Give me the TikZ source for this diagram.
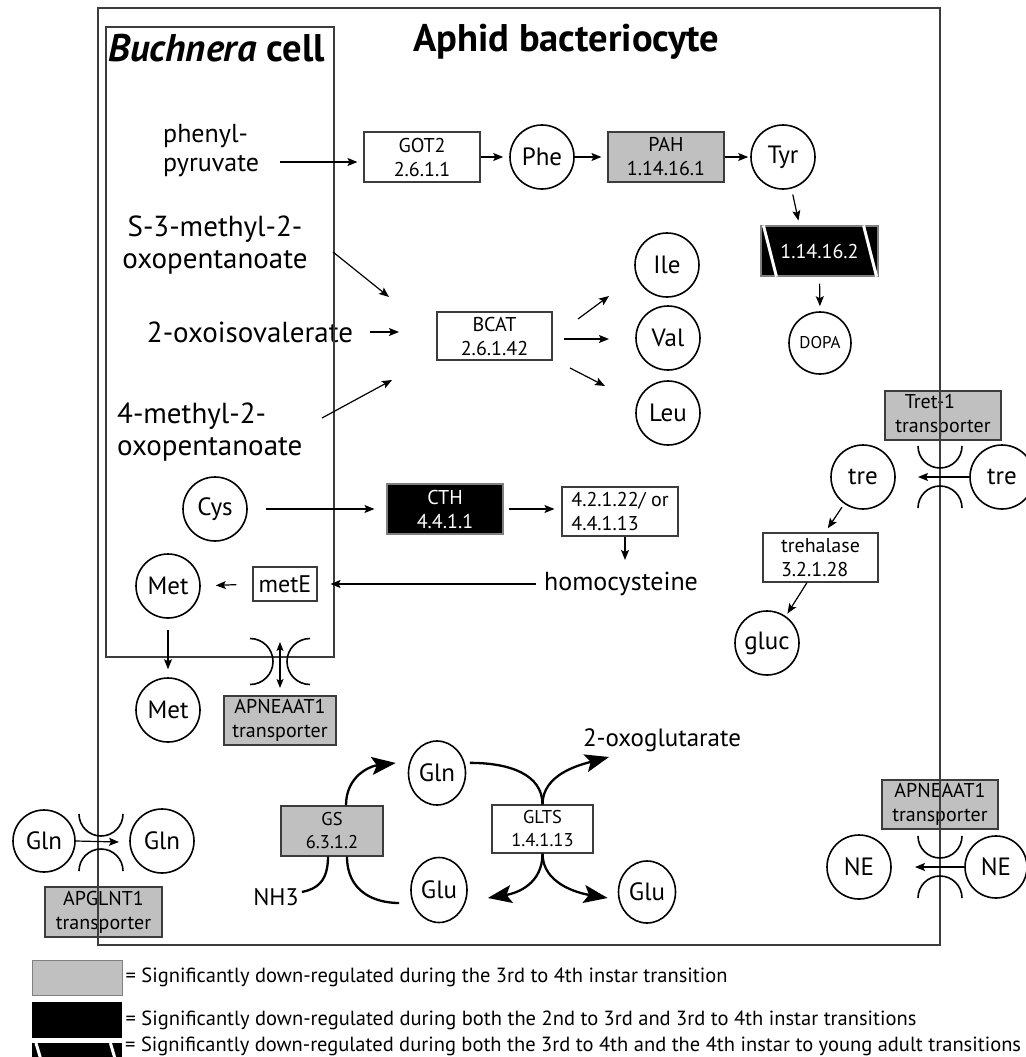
\documentclass[tikz,border=0pt]{standalone}
\usepackage{fontspec}
\setmainfont{PT Sans}
\usetikzlibrary{arrows.meta,shapes.geometric}
\definecolor{gfill}{RGB}{192,192,192}
\definecolor{ln}{RGB}{60,60,60}
\begin{document}
\begin{tikzpicture}[x=1pt,y=-1pt,
 enz/.style={draw=ln, line width=1.1pt, minimum width=116pt, minimum height=50pt, inner sep=0pt, align=center, font=\fontsize{20}{24}\selectfont},
 grayenz/.style={enz, fill=gfill},
 blackenz/.style={enz, fill=black, draw=gray, text=white},
 mol/.style={circle, draw=black, line width=1.6pt, minimum size=64pt, inner sep=0pt, font=\fontsize{25}{28}\selectfont},
 molel/.style={ellipse, draw=black, line width=1.6pt, minimum width=57pt, minimum height=64pt, inner sep=0pt, font=\fontsize{25}{28}\selectfont},
 lab/.style={inner sep=0pt, font=\fontsize{26}{29}\selectfont},
 labbig/.style={inner sep=0pt, font=\fontsize{29}{32}\selectfont},
 ttl/.style={inner sep=0pt, anchor=base west, font=\fontsize{38.5}{40}\selectfont\bfseries},
 arr/.style={line width=1.2pt, -{Stealth[length=10pt,width=8pt,inset=2pt]}},
 darr/.style={line width=1.2pt, {Stealth[length=9pt,width=7pt,inset=2pt]}-{Stealth[length=9pt,width=7pt,inset=2pt]}},
 bigarr/.style={line width=2.3pt, -{Stealth[length=24pt,width=18pt,inset=5pt]}},
 crv/.style={line width=2.3pt},
 memb/.style={line width=1.6pt},
 wall/.style={draw=ln, line width=1.4pt},
 leg/.style={inner sep=0pt, anchor=west, font=\fontsize{20.5}{22}\selectfont},
 legbox/.style={minimum width=90pt, inner sep=0pt, anchor=north west},
]
\useasboundingbox (0,0) rectangle (1025,1057);

% titles
\node[ttl] (tbuch) at (108,62) {\textit{Buchnera} cell};
\node[ttl] (taphid) at (413,52) {Aphid bacteriocyte};

% aromatic pathway
\node[lab, align=left, anchor=west] (pp) at (163,151) {phenyl-\\pyruvate};
\node[enz] (got2) at (422,157) {GOT2\\2.6.1.1};
\node[mol] (phe) at (542,157) {Phe};
\node[grayenz] (pah) at (666,157) {PAH\\1.14.16.1};
\node[mol] (tyr) at (783,157) {Tyr};
\node[blackenz, minimum width=117pt] (hpd) at (819.5,251) {1.14.16.2};
\draw[white, line width=3pt] ([xshift=3pt]hpd.north west) -- ([xshift=16pt]hpd.south west);
\draw[white, line width=3pt] ([xshift=-15pt]hpd.north east) -- ([xshift=-2pt]hpd.south east);
\node[mol, minimum size=62pt, font=\fontsize{17}{20}\selectfont] (dopa) at (820,343) {DOPA};

% branched chain
\node[labbig, align=center] (s3m) at (215,245) {S-3-methyl-2-\\oxopentanoate};
\node[labbig] (oiv) at (250,332) {2-oxoisovalerate};
\node[labbig, align=left, anchor=west] (m4) at (117,432) {4-methyl-2-\\oxopentanoate};
\node[enz, minimum width=115pt, minimum height=48pt] (bcat) at (494.5,336) {BCAT\\2.6.1.42};
\node[mol] (ile) at (667,265) {Ile};
\node[mol] (val) at (668,338) {Val};
\node[mol] (leu) at (668,413) {Leu};

% sulfur
\node[mol] (cys) at (215,509) {Cys};
\node[blackenz] (cth) at (445,509) {CTH\\4.4.1.1};
\node[enz, minimum height=49pt, align=left] (e42) at (620,511.5) {4.2.1.22/ or\\4.4.1.13};
\node[lab] (hcy) at (621,584) {homocysteine};
\node[enz, minimum width=64pt, minimum height=34pt, font=\fontsize{24}{26}\selectfont] (mete) at (285,584) {metE};
\node[mol] (met1) at (168,586) {Met};
\node[mol] (met2) at (168,710) {Met};
\node[grayenz, minimum width=112pt, minimum height=49pt] (apn1) at (280,720.5) {APNEAAT1\\transporter};

% trehalose
\node[grayenz, minimum height=49pt] (tret) at (943,415.5) {Tret-1\hspace*{26pt}\\transporter};
\node[mol] (tre1) at (863,477) {tre};
\node[mol] (tre2) at (1002,477) {tre};
\node[enz, minimum width=115pt, minimum height=49pt, align=left] (treh) at (820.5,557.5) {trehalase\\3.2.1.28};
\node[mol] (gluc) at (767,643) {gluc};

% Gln transport
\node[mol, minimum size=62pt] (glnA) at (44,841) {Gln};
\node[mol] (glnB) at (162,841) {Gln};
\node[grayenz, minimum width=117pt] (apgl) at (103.5,912) {APGLNT1\\transporter};

% NE transport
\node[grayenz, minimum height=49pt] (apn2) at (940,804.5) {APNEAAT1\\transporter};
\node[mol] (neA) at (859,867) {NE};
\node[mol, minimum size=62pt] (neB) at (996,867) {NE};

% GS / GLTS cycle
\node[molel] (gln3) at (437,773) {Gln};
\node[molel, minimum width=56pt, minimum height=65pt] (glu1) at (439,890) {Glu};
\node[molel, minimum height=62pt] (glu2) at (647,892) {Glu};
\node[grayenz, minimum width=102pt, font=\fontsize{18.5}{23}\selectfont] (gs) at (332,831) {GS\\6.3.1.2};
\node[enz, minimum width=101pt, minimum height=48pt, font=\fontsize{18.5}{23}\selectfont] (glts) at (542.5,829) {GLTS\\1.4.1.13};
\node[inner sep=0pt, font=\fontsize{25}{28}\selectfont] (oxog) at (662,740) {2-oxoglutarate};
\node[inner sep=0pt, font=\fontsize{24}{26}\selectfont] (nh3) at (276,897) {NH3};

% walls
\draw[wall] (98,8) rectangle (940,945);
\draw[wall] (106,27) rectangle (334,657);

% membranes
\draw[memb] (918,446) arc[start angle=180, end angle=0, radius=22];
\draw[memb] (918,508) arc[start angle=180, end angle=360, radius=22];
\draw[memb] (918,836) arc[start angle=180, end angle=0, radius=22];
\draw[memb] (918,898) arc[start angle=180, end angle=360, radius=22];
\draw[memb] (79,814) arc[start angle=180, end angle=0, radius=22];
\draw[memb] (79,871) arc[start angle=180, end angle=360, radius=22];
\draw[memb] (250,638.5) arc[start angle=-90, end angle=90, radius=23];
\draw[memb] (310,684.5) arc[start angle=90, end angle=270, radius=23];

% coordinates for free ends
\coordinate (ppend) at (280,162);
\coordinate (b1s) at (333,252); \coordinate (b1e) at (389,297);
\coordinate (b2s) at (370,332); \coordinate (b2e) at (399,332);
\coordinate (b3s) at (322,418); \coordinate (b3e) at (392,380);
\coordinate (c1s) at (578,319); \coordinate (c1e) at (609,296);
\coordinate (c2s) at (564,339); \coordinate (c2e) at (609,339);
\coordinate (c3s) at (570,368); \coordinate (c3e) at (605,386);
\coordinate (tretip) at (918,477);
\coordinate (netip) at (915,867);
\coordinate (glntip) at (119,842);
\coordinate (dA) at (280,642); \coordinate (dB) at (280,688);
\coordinate (oxtip) at (609,757);

% arrows
\draw[arr, shorten >=6pt] (ppend) -- (ppend -| got2.west);
\draw[arr, shorten >=6pt] (got2.east) -- (phe.west);
\draw[arr, shorten >=6pt] (phe.east) -- (pah.west);
\draw[arr, shorten >=2pt] (pah.east) -- (tyr.west);
\draw[arr, shorten <=6pt, shorten >=5pt] (tyr.-75) -- ([xshift=-20pt]hpd.north);
\draw[arr, shorten <=7pt, shorten >=5pt] (hpd.south) -- (dopa.north);

\draw[arr] (b1s) -- (b1e);
\draw[arr] (b2s) -- (b2e);
\draw[arr] (b3s) -- (b3e);
\draw[arr] (c1s) -- (c1e);
\draw[arr] (c2s) -- (c2e);
\draw[arr] (c3s) -- (c3e);

\draw[arr, shorten <=18pt, shorten >=12pt] (cys.east) -- (cth.west);
\draw[arr, shorten <=5pt, shorten >=7pt] (cth.east) -- (cth.east -| e42.west);
\draw[arr, shorten >=12pt] ([xshift=5pt]e42.south) -- ([xshift=5pt]e42.south |- hcy.north);
\draw[arr, shorten <=8pt] (hcy.west) -- ([xshift=13pt]mete.east);
\draw[arr, shorten <=16pt, shorten >=15pt] (mete.west) -- (met1.east);
\draw[arr, shorten <=11pt, shorten >=8pt] (met1.south) -- (met2.north);
\draw[darr] (dA) -- (dB);

\draw[arr] (tre2.west) -- (tretip);
\draw[arr, shorten <=4pt, shorten >=5pt] (tre1.-125) -- ([xshift=4.5pt]treh.north);
\draw[arr, shorten >=3pt] ([xshift=-13.5pt]treh.south) -- (gluc.55);
\draw[arr] (glnA.east) -- (glntip);
\draw[arr] (neB.west) -- (netip);

% cycle curves
\draw[bigarr] ([xshift=14pt]gs.north) .. controls +(0,-30) and +(-25,3) .. ([xshift=-12pt,yshift=10pt]gln3.west);
\draw[crv] ([xshift=5pt]gln3.20) .. controls +(40,0) and +(0,-30) .. (glts.north);
\draw[bigarr] (glts.north) .. controls +(0,-30) and +(-30,8) .. (oxtip);
\draw[bigarr] (glts.south) .. controls +(0,30) and +(30,-5) .. ([xshift=20pt,yshift=-8pt]glu1.east);
\draw[bigarr] (glts.south) .. controls +(0,30) and +(-30,-5) .. ([xshift=-10pt,yshift=-6pt]glu2.west);
\draw[crv] ([xshift=-4pt]gs.south) .. controls +(0,25) and +(15,-3) .. ([xshift=3pt,yshift=5pt]nh3.east);
\draw[crv] ([xshift=15pt]gs.south) .. controls +(0,35) and +(-25,0) .. ([xshift=-11pt,yshift=-13pt]glu1.west);

% legend
\node[legbox, draw=gray, fill=gfill, minimum height=35pt] (lg1) at (32,960) {};
\node[leg] (lt1) at ([xshift=3pt]lg1.east) {= Significantly down-regulated during the 3rd to 4th instar transition};
\node[legbox, fill=black, minimum height=36pt] (lg2) at (32,1002) {};
\node[leg] (lt2) at ([xshift=3pt]lg2.east) {= Significantly down-regulated during both the 2nd to 3rd and 3rd to 4th instar transitions};
\node[legbox, fill=black, minimum height=30pt] (lg3) at (32,1043) {};
\draw[white, line width=3pt] ([xshift=4pt]lg3.north west) -- ([xshift=13pt]lg3.south west);
\draw[white, line width=3pt] ([xshift=-12pt]lg3.north east) -- ([xshift=-3pt]lg3.south east);
\node[leg] (lt3) at (125,1046) {= Significantly down-regulated during both the 3rd to 4th and the 4th instar to young adult transitions};
\end{tikzpicture}
\end{document}
